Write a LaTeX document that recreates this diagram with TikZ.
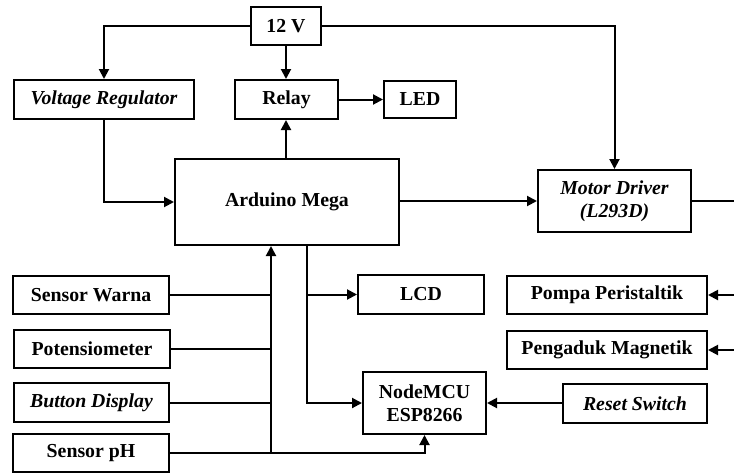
\documentclass[tikz,border=0pt]{standalone}
\usepackage{fontspec}
\setmainfont{Liberation Serif}
\usetikzlibrary{arrows.meta}
\tikzset{blok/.style = {draw, rectangle, inner sep = 0, align = center,
    font = \bfseries\fontsize{9.9}{11.5}\selectfont}}
\tikzset{panah/.style = {-{Triangle[length=5pt,width=5pt]}}}
\tikzset{every picture/.style={
    every path/.style={line width=1pt},
}}

\begin{document}
\begin{tikzpicture}[x=0.5pt, y=-0.5pt]
      \useasboundingbox (0,0) rectangle (734,472);
      % power and outputs
      \node[blok, minimum width=35pt, minimum height=19pt] (v12) at (286,26) {12 V};
      \node[blok, minimum width=90pt, minimum height=19.5pt] (vreg) at (104,99.5) {\itshape Voltage Regulator};
      \node[blok, minimum width=51.5pt, minimum height=19.5pt] (relay) at (286.5,99.5) {Relay};
      \node[blok, minimum width=36pt, minimum height=18.5pt] (led) at (420,99.5) {LED};
      \node[blok, minimum width=112pt, minimum height=43pt] (ard) at (287,202) {Arduino Mega};
      \node[blok, minimum width=76.5pt, minimum height=31pt] (motor) at (614.5,201) {\itshape Motor Driver\\\itshape (L293D)};
      % inputs
      \node[blok, minimum width=78pt, minimum height=19pt] (warna) at (91,295) {Sensor Warna};
      \node[blok, minimum width=78pt, minimum height=19pt] (poten) at (92,349) {Potensiometer};
      \node[blok, minimum width=77.5pt, minimum height=19.5pt] (button) at (91.5,402.5) {\itshape Button Display};
      \node[blok, minimum width=78pt, minimum height=19pt] (ph) at (91,453) {Sensor pH};
      \node[blok, minimum width=63pt, minimum height=19.5pt] (lcd) at (421,294.5) {LCD};
      \node[blok, minimum width=61.5pt, minimum height=31pt] (nodemcu) at (424.5,403) {NodeMCU\\ESP8266};
      \node[blok, minimum width=100pt, minimum height=19pt] (pompa) at (607,295) {Pompa Peristaltik};
      \node[blok, minimum width=100pt, minimum height=19pt] (aduk) at (607,350) {Pengaduk Magnetik};
      \node[blok, minimum width=72pt, minimum height=19.5pt] (reset) at (635,403.5) {\itshape Reset Switch};
      \coordinate (bus) at (271,453);
      \coordinate (cabang) at (307,245);
      \coordinate (motorout) at (734,201);
      \coordinate (pompain) at (734,295);
      \coordinate (adukin) at (734,350);

      \draw[panah] (v12.west) -| (vreg.north);
      \draw[panah] (v12.east) -| (motor.north);
      \draw[panah] (v12.south) -- (v12.south |- relay.north);
      \draw[panah] (v12.south |- ard.north) -- (v12.south |- relay.south);
      \draw[panah] (relay) -- (led);
      \draw[panah] (vreg.south) |- (ard.west);
      \draw[panah] (ard.east |- motor) -- (motor.west);
      \draw (motor.east) -- (motorout);
      \draw[panah] (pompain) -- (pompa.east);
      \draw[panah] (adukin) -- (aduk.east);
      % sensor bus
      \draw (warna.east) -- (warna -| bus);
      \draw (poten.east) -- (poten -| bus);
      \draw (button.east) -- (button -| bus);
      \draw[panah] (bus) -- (bus |- ard.south);
      \draw[panah] (ph.east) -| (nodemcu.south);
      \draw[panah] (cabang) |- (nodemcu.west);
      \draw[panah] (cabang |- lcd) -- (lcd.west);
      \draw[panah] (reset.west |- nodemcu) -- (nodemcu.east);
    \end{tikzpicture}
\end{document}
